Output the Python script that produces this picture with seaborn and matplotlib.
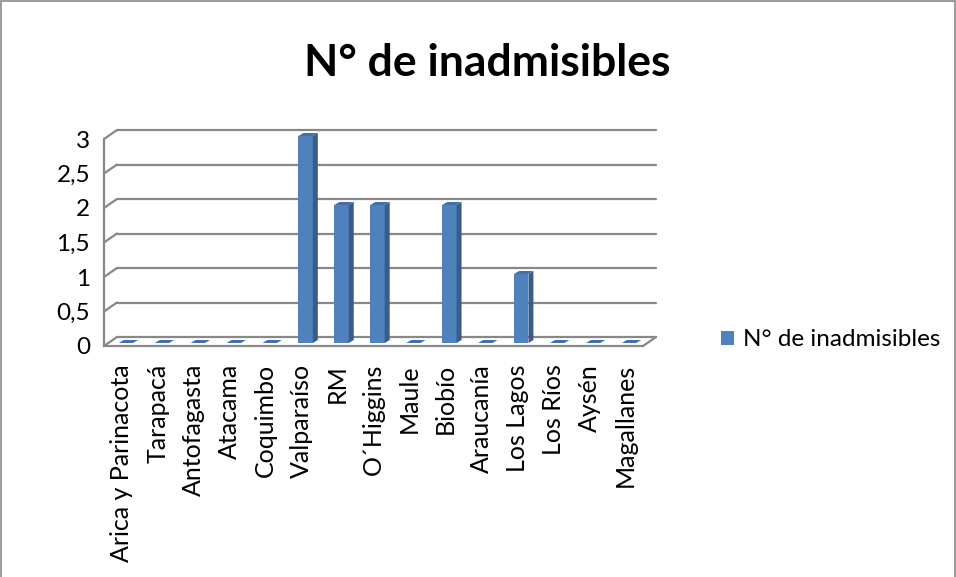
import matplotlib
matplotlib.use("Agg")
import matplotlib.pyplot as plt
import seaborn as sns
import pandas as pd
from matplotlib.patches import Polygon, Rectangle
from matplotlib.lines import Line2D
from matplotlib.ticker import FixedLocator

# data
regiones = ["Arica y Parinacota", "Tarapacá", "Antofagasta", "Atacama", "Coquimbo",
            "Valparaíso", "RM", "O´Higgins", "Maule", "Biobío", "Araucanía",
            "Los Lagos", "Los Ríos", "Aysén", "Magallanes"]
inadmisibles = [0, 0, 0, 0, 0, 3, 2, 2, 0, 2, 0, 1, 0, 0, 0]
y_ticks = [0, 0.5, 1, 1.5, 2, 2.5, 3]
y_labels = ["0", "0,5", "1", "1,5", "2", "2,5", "3"]
serie = "N° de inadmisibles"

df = pd.DataFrame({"Region": regiones, "Valor": inadmisibles})

sns.set_style("white")
plt.rcParams["font.family"] = ["Lato", "DejaVu Sans"]
plt.rcParams["text.color"] = "black"

W, H = 956, 577
fig = plt.figure(figsize=(W / 100, H / 100), dpi=100)
ax = fig.add_axes([104 / W, (H - 346) / H, 539 / W, 207 / H])

front = "#4F81BD"
side = "#385D8A"
top = "#4470AA"
grid_c = "#888888"

sns.barplot(data=df, x="Region", y="Valor", color=front, width=0.4,
            saturation=1, label=serie, ax=ax, zorder=3)
ax.set_xlim(-0.5, len(regiones) - 0.5)
ax.set_ylim(0, 3)

# pixel -> data conversion
ux = len(regiones) / 539
uy = 3 / 207
floor_dx, floor_dy = 13 * ux, 9 * uy
bar_dx, bar_dy = 5 * ux, 3 * uy
shift_x, shift_y = 4 * ux, 3 * uy

# back wall gridlines and left wall connectors
x0, x1 = -0.5, len(regiones) - 0.5
for t in y_ticks:
    ax.add_line(Line2D([x0 + floor_dx, x1 + floor_dx], [t + floor_dy, t + floor_dy],
                       color=grid_c, lw=1.6, clip_on=False, zorder=1))
    ax.add_line(Line2D([x0, x0 + floor_dx], [t, t + floor_dy],
                       color=grid_c, lw=1.6, clip_on=False, zorder=1))
ax.add_line(Line2D([x1, x1 + floor_dx], [0, floor_dy], color=grid_c, lw=1.6,
                   clip_on=False, zorder=1))

# pseudo 3D bars
for p in [p for p in ax.patches if isinstance(p, Rectangle)]:
    x, w, h = p.get_x() + shift_x, p.get_width(), p.get_height()
    y = shift_y
    p.set_x(x)
    p.set_y(y)
    p.set_clip_on(False)
    p.set_edgecolor("none")
    ax.add_patch(Polygon([(x + w, y), (x + w, y + h), (x + w + bar_dx, y + h + bar_dy),
                          (x + w + bar_dx, y + bar_dy)], closed=True, facecolor=side,
                         edgecolor="none", clip_on=False, zorder=3))
    ax.add_patch(Polygon([(x, y + h), (x + w, y + h), (x + w + bar_dx, y + h + bar_dy),
                          (x + bar_dx, y + h + bar_dy)], closed=True, facecolor=top,
                         edgecolor="none", clip_on=False, zorder=3))

# axes styling
for s in ["top", "right"]:
    ax.spines[s].set_visible(False)
for s in ["left", "bottom"]:
    ax.spines[s].set_color(grid_c)
    ax.spines[s].set_linewidth(1.6)
    ax.spines[s].set_zorder(2)
ax.set_yticks(y_ticks)
ax.set_yticklabels(y_labels)
ax.set_xticks(range(len(regiones)))
ax.set_xticklabels(regiones, rotation=90)
ax.xaxis.set_minor_locator(FixedLocator([i - 0.5 for i in range(len(regiones) + 1)]))
ax.tick_params(axis="x", which="major", length=0, pad=13, labelsize=18, labelcolor="black")
ax.tick_params(axis="x", which="minor", length=5, width=1.6, color=grid_c, direction="out")
ax.tick_params(axis="y", length=3, width=1.6, color=grid_c, direction="out",
               labelsize=17.5, pad=7, labelcolor="black")
ax.set_xlabel("")
ax.set_ylabel("")
ax.patch.set_alpha(0)

leg = ax.legend(loc="center left", bbox_to_anchor=(721 / W, (H - 340) / H),
                bbox_transform=fig.transFigure, frameon=False, fontsize=17.5,
                handlelength=0.55, handleheight=0.55, handletextpad=0.35,
                borderaxespad=0, borderpad=0)
for txt in leg.get_texts():
    txt.set_color("black")

fig.text(487 / W, (H - 76) / H, "N° de inadmisibles", ha="center", va="baseline",
         fontsize=32, fontweight="bold", color="black")

fig.patches.append(Rectangle((0.5 / W, -0.05), 1 - 1.5 / W, 1.05 - 0.5 / H,
                             transform=fig.transFigure, fill=False,
                             edgecolor="#898989", lw=1.2))

fig.savefig("out.png", dpi=100)
